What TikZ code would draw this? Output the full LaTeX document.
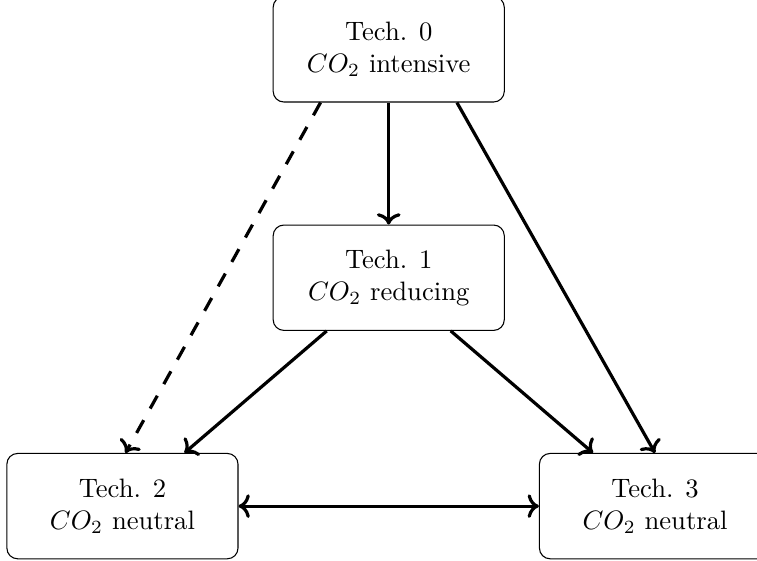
\documentclass[tikz,border=0pt]{standalone}
\usepackage{amsmath}
\usepackage{tikz}
\usetikzlibrary{positioning, arrows.meta}

\begin{document}
\begin{tikzpicture}[very thick, tech/.style={rectangle, draw, thin, rounded corners, align=center, minimum width=3.05cm, minimum height=1.39cm}]
            \useasboundingbox (-5.13,-3.726) rectangle (4.86,3.665);
            \node[tech] (t1) at (0,0) {Tech. 1\\$CO_2$ reducing};
            \node[tech, above=1.61cm of t1] (t0) {Tech. 0\\$CO_2$ intensive};
            \node[tech, below left=1.61cm and 0.45cm of t1] (t2) {Tech. 2\\$CO_2$ neutral};
            \node[tech, below right=1.61cm and 0.45cm of t1] (t3) {Tech. 3\\$CO_2$ neutral};
            \draw [-{To[scale=1.0]}] (t0) -- (t1);
            \draw [-{To[scale=1.0]}, dash pattern=on 5.5pt off 5pt] ([xshift=-0.9cm]t0.south) -- ([xshift=0.04cm]t2.north);
            \draw [-{To[scale=1.0]}] ([xshift=0.9cm]t0.south) -- (t3.north);
            \draw [-{To[scale=1.0]}] (t1) -- (t2);
            \draw [-{To[scale=1.0]}] (t1) -- (t3);
            \draw [{To[scale=1.0]}-{To[scale=1.0]}] (t2) -- (t3);
        \end{tikzpicture}
\end{document}
